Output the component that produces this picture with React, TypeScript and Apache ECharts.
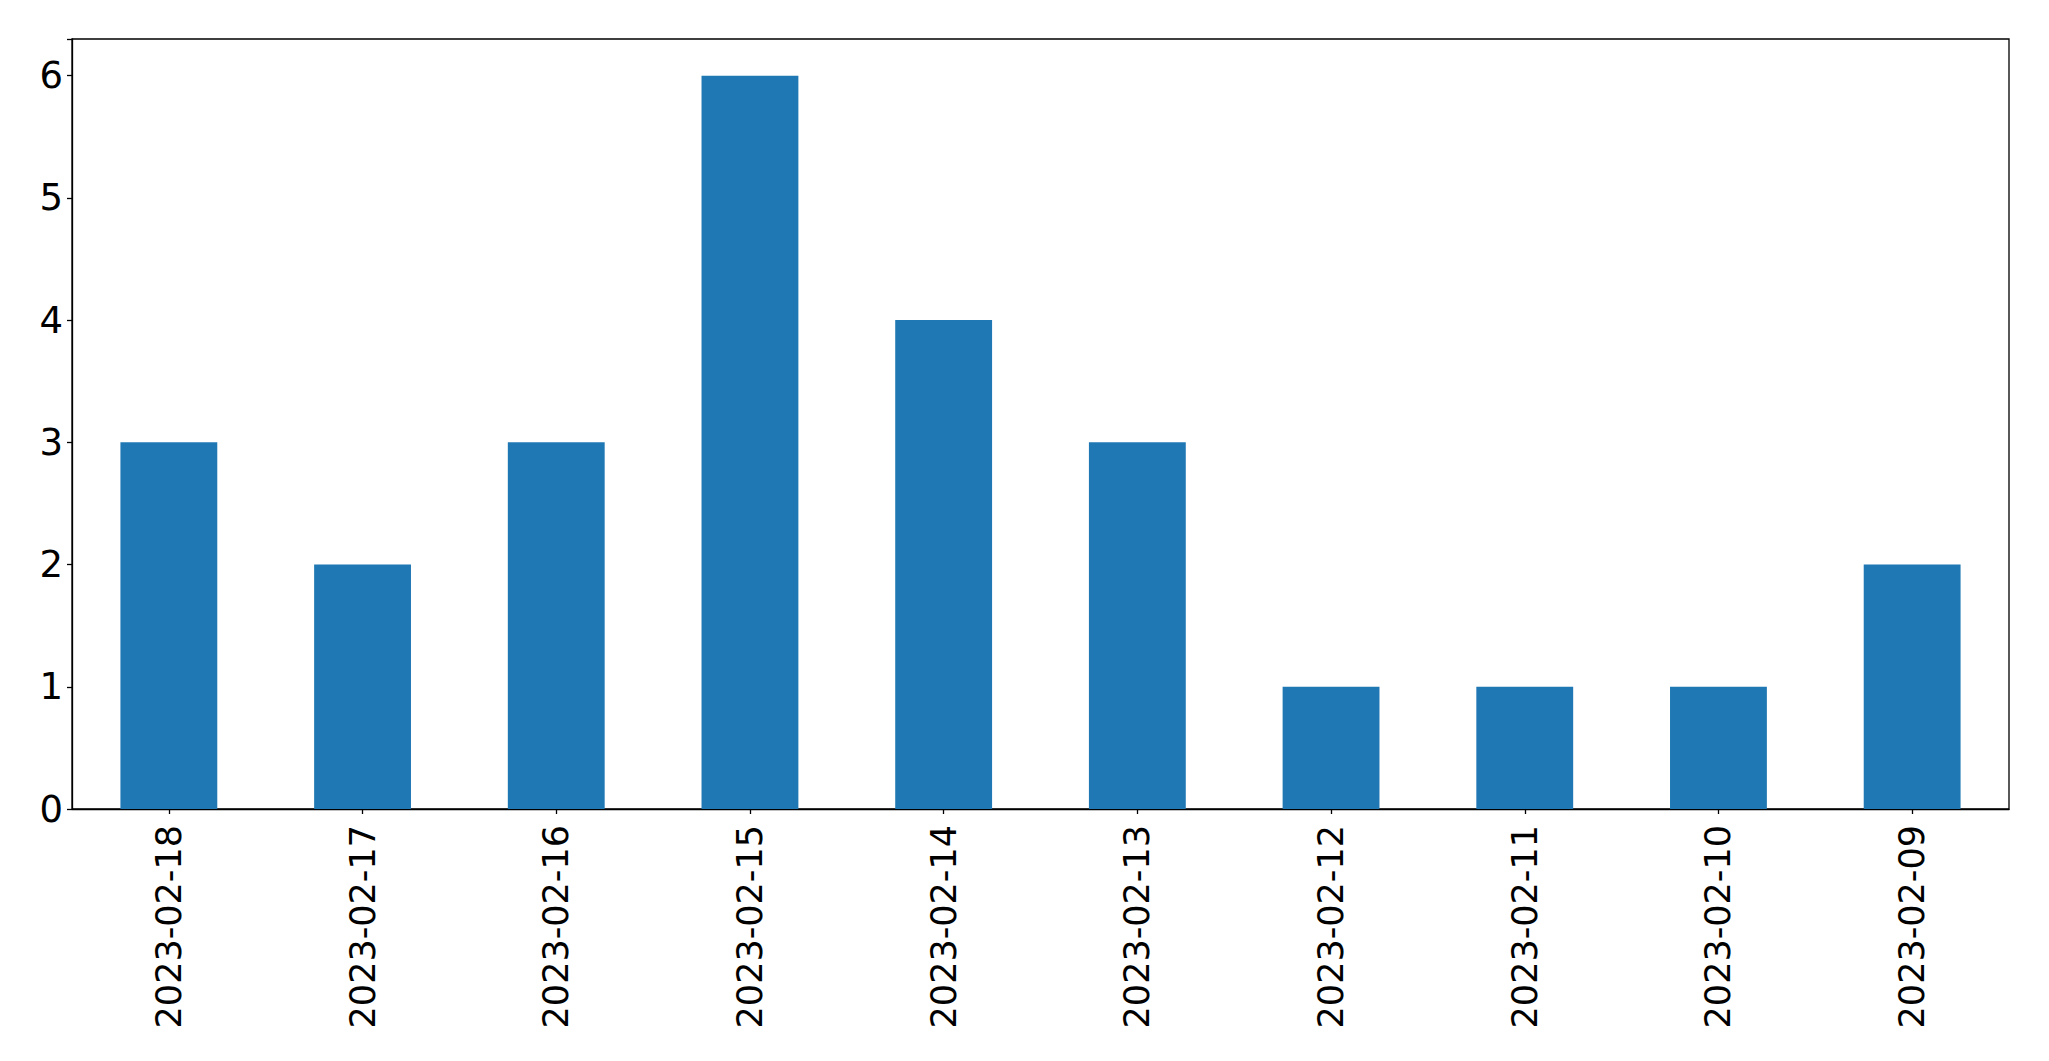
import React, { useEffect, useRef } from "react";
import * as echarts from "echarts";

const categories = [
  "2023-02-18",
  "2023-02-17",
  "2023-02-16",
  "2023-02-15",
  "2023-02-14",
  "2023-02-13",
  "2023-02-12",
  "2023-02-11",
  "2023-02-10",
  "2023-02-09",
];
const counts = [3, 2, 3, 6, 4, 3, 1, 1, 1, 2];
const yTicks = [0, 1, 2, 3, 4, 5, 6];

export default function App() {
  const ref = useRef<HTMLDivElement>(null);
  useEffect(() => {
    document.body.style.margin = "0";
    const chart = echarts.init(ref.current!, null, { renderer: "svg" });
    const font = "DejaVu Sans";
    chart.setOption({
      animation: false,
      backgroundColor: "#ffffff",
      grid: {
        left: 72,
        right: 40,
        top: 39,
        bottom: 252,
        show: true,
        borderColor: "#000000",
        borderWidth: 1.3,
        backgroundColor: "transparent",
      },
      xAxis: {
        type: "category",
        data: categories,
        axisLine: { show: true, lineStyle: { color: "#000", width: 1.3 } },
        axisTick: { show: true, alignWithLabel: true, length: 5, lineStyle: { color: "#000", width: 1.3 } },
        axisLabel: {
          rotate: 90,
          margin: 16,
          fontFamily: font,
          fontSize: 35,
          color: "#000",
          interval: 0,
        },
        splitLine: { show: false },
      },
      yAxis: {
        type: "value",
        min: 0,
        max: 6.3,
        interval: 1,
        axisLine: { show: true, lineStyle: { color: "#000", width: 1.3 } },
        axisTick: { show: true, length: 5, lineStyle: { color: "#000", width: 1.3 } },
        axisLabel: {
          margin: 9,
          fontFamily: font,
          fontSize: 37,
          color: "#000",
          formatter: (v: number) => (yTicks.includes(v) ? String(v) : ""),
        },
        splitLine: { show: false },
      },
      series: [
        {
          type: "bar",
          data: counts,
          barWidth: "50%",
          itemStyle: { color: "#1f77b4" },
        },
      ],
    });
    return () => chart.dispose();
  }, []);
  return (
    <div
      ref={ref}
      style={{ position: "absolute", left: 0, top: 0, width: 2049, height: 1061 }}
    />
  );
}
